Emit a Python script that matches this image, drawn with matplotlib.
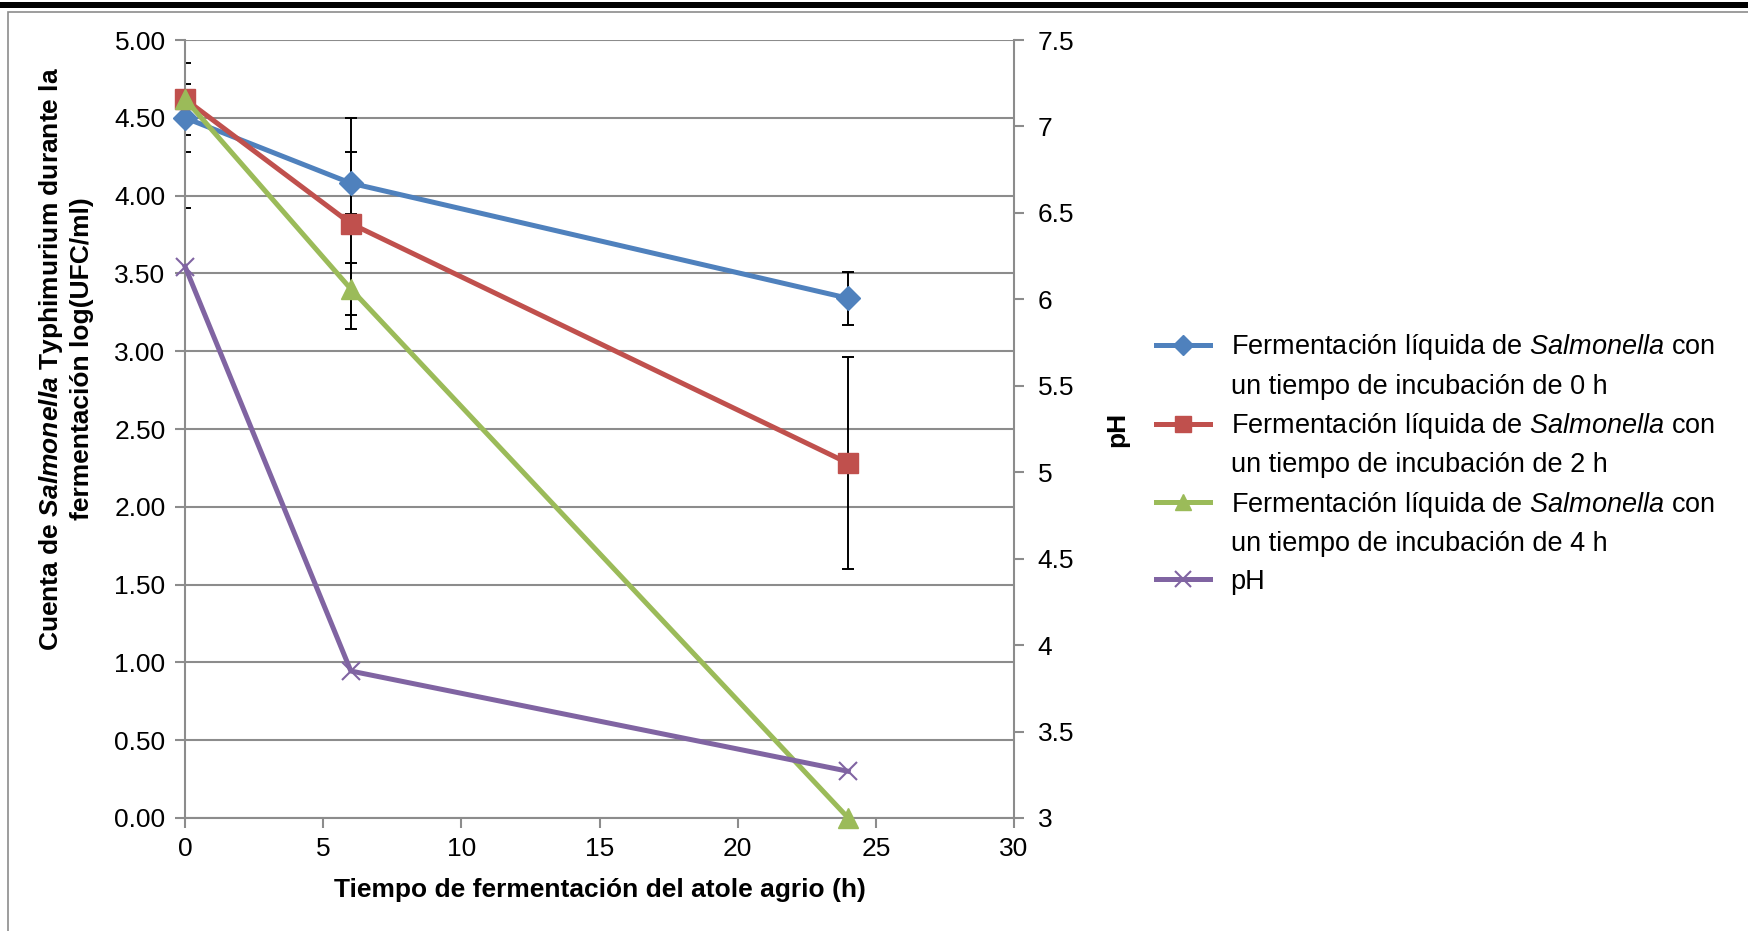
import matplotlib
matplotlib.use("Agg")
import matplotlib.pyplot as plt
from matplotlib.lines import Line2D
from matplotlib.patches import Rectangle
from matplotlib.ticker import FuncFormatter, MultipleLocator

plt.rcParams['font.family'] = ['Liberation Sans', 'DejaVu Sans']
plt.rcParams['mathtext.fontset'] = 'custom'
plt.rcParams['mathtext.rm'] = 'Liberation Sans'
plt.rcParams['mathtext.it'] = 'Liberation Sans:italic'
plt.rcParams['mathtext.bf'] = 'Liberation Sans:bold'
plt.rcParams['mathtext.bfit'] = 'Liberation Sans:italic:bold'

# data
hours = [0, 6, 24]
count_0h = [4.50, 4.08, 3.34]
err_0h = [0.22, 0.20, 0.17]
count_2h = [4.62, 3.82, 2.28]
err_2h = [0.23, 0.68, 0.68]
count_4h = [4.62, 3.40, 0.00]
err_4h = [0.70, 0.17, 0.0]
ph = [6.19, 3.85, 3.27]

labels = ["Fermentación líquida de $\\mathit{Salmonella}$ con",
          "un tiempo de incubación de 0 h",
          "Fermentación líquida de $\\mathit{Salmonella}$ con",
          "un tiempo de incubación de 2 h",
          "Fermentación líquida de $\\mathit{Salmonella}$ con",
          "un tiempo de incubación de 4 h",
          "pH"]

blue = "#4F81BD"
red = "#C0504D"
green = "#9BBB59"
purple = "#8064A2"
grid_gray = "#8C8C8C"

fig = plt.figure(figsize=(17.49, 9.31), dpi=100)
ax = fig.add_axes([0.1058, 0.1214, 0.4740, 0.8356])
ax2 = ax.twinx()

# error bars underneath the lines
for y, e in [(count_0h, err_0h), (count_2h, err_2h), (count_4h, err_4h)]:
    ax.errorbar(hours, y, yerr=e, fmt='none', ecolor='black', elinewidth=1.4,
                capsize=4, capthick=1.4, zorder=2, clip_on=True)

l0, = ax.plot(hours, count_0h, color=blue, lw=3.6, marker='D', ms=12, zorder=3, clip_on=False)
l2, = ax.plot(hours, count_2h, color=red, lw=3.6, marker='s', ms=14, zorder=3, clip_on=False)
l4, = ax.plot(hours, count_4h, color=green, lw=3.6, marker='^', ms=15, zorder=3, clip_on=False)
lp, = ax2.plot(hours, ph, color=purple, lw=3.6, marker='x', ms=13, mew=1.5, zorder=3, clip_on=False)

ax.set_xlim(0, 30)
ax.set_ylim(0, 5)
ax2.set_ylim(3, 7.5)
ax.xaxis.set_major_locator(MultipleLocator(5))
ax.yaxis.set_major_locator(MultipleLocator(0.5))
ax2.yaxis.set_major_locator(MultipleLocator(0.5))
ax.yaxis.set_major_formatter(FuncFormatter(lambda v, p: f"{v:.2f}"))
ax2.yaxis.set_major_formatter(FuncFormatter(lambda v, p: f"{v:g}"))

ax.grid(axis='y', color=grid_gray, lw=1.5)
ax.set_axisbelow(True)
for a in (ax, ax2):
    for s in a.spines.values():
        s.set_color(grid_gray)
        s.set_linewidth(1.5)
    a.spines['top'].set_visible(False)
ax.spines['right'].set_visible(False)
ax2.spines['left'].set_visible(False)
ax2.spines['bottom'].set_visible(False)

ax.tick_params(axis='both', direction='out', length=7, width=1.5, color=grid_gray,
               labelsize=19, pad=7)
ax2.tick_params(axis='y', direction='out', length=7, width=1.5, color=grid_gray,
                labelsize=19, pad=10)

ax.set_xlabel("Tiempo de fermentación del atole agrio (h)", fontsize=19,
              fontweight='bold', labelpad=12)
ax.set_ylabel("Cuenta de $\\mathbfit{Salmonella}$ Typhimurium durante la\nfermentación log(UFC/ml)",
              fontsize=19, fontweight='bold', linespacing=1.25)
ax.yaxis.set_label_coords(-0.11, 0.59)
ax2.set_ylabel("pH", fontsize=19, fontweight='bold', labelpad=22)

blank = Line2D([], [], linestyle='none')
handles = [Line2D([], [], color=blue, lw=3.6, marker='D', ms=10), blank,
           Line2D([], [], color=red, lw=3.6, marker='s', ms=12), blank,
           Line2D([], [], color=green, lw=3.6, marker='^', ms=12), blank,
           Line2D([], [], color=purple, lw=3.6, marker='x', ms=12, mew=1.5)]
leg = fig.legend(handles, labels, loc='upper left', bbox_to_anchor=(0.661, 0.643),
                 frameon=False, fontsize=19.5, handlelength=2.0, handletextpad=0.75,
                 labelspacing=0.42, borderpad=0, borderaxespad=0)

# page decorations: heavy top rule and the chart frame
fig.add_artist(Rectangle((0, 1 - 8 / 931), 1, 6 / 931, transform=fig.transFigure,
                         facecolor='black', edgecolor='none'))
fig.add_artist(Rectangle((8 / 1749, -0.1), 1.2, 1 - 12 / 931 + 0.1, transform=fig.transFigure,
                         facecolor='none', edgecolor=grid_gray, lw=1.2))

fig.savefig("out.png", dpi=100, facecolor='white')
